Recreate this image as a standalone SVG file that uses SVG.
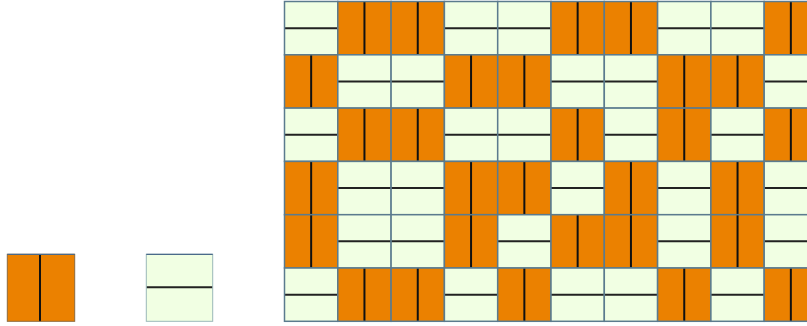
<svg xmlns="http://www.w3.org/2000/svg" xmlns:xlink="http://www.w3.org/1999/xlink" width="807" height="326" viewBox="0 0 807 326">
<style>
.of{fill:#EB8100}
.lf{fill:#F1FFE3}
.gs{fill:none;stroke:#5b7b8e;stroke-width:1.5}
.vl{stroke:#111;stroke-width:2}
.hl{stroke:#222;stroke-width:2}
</style>
<defs>
<g id="O">
<rect class="of" x="0" y="0" width="53.3" height="53.3"/>
<line class="vl" x1="26.65" y1="0" x2="26.65" y2="53.3"/>
<rect class="gs" x="0" y="0" width="53.3" height="53.3"/>
</g>
<g id="L">
<rect class="lf" x="0" y="0" width="53.3" height="53.3"/>
<line class="hl" x1="0" y1="26.65" x2="53.3" y2="26.65"/>
<rect class="gs" x="0" y="0" width="53.3" height="53.3"/>
</g>
</defs>
<rect width="807" height="326" fill="#ffffff"/>
<g id="legend-orange">
<rect class="of" x="7.3" y="254.3" width="67.4" height="67"/>
<line class="vl" x1="40" y1="254.3" x2="40" y2="321.3" stroke-width="2.2"/>
<rect x="7.3" y="254.3" width="67.4" height="67" fill="none" stroke="#8c6a3c" stroke-width="1"/>
<line x1="7.3" y1="254.3" x2="74.7" y2="254.3" stroke="#4a6a8a" stroke-width="1.3"/>
</g>
<g id="legend-light">
<rect class="lf" x="146.3" y="254.3" width="66.4" height="67"/>
<line class="hl" x1="146.3" y1="287.3" x2="212.7" y2="287.3" stroke-width="2.2"/>
<rect x="146.3" y="254.3" width="66.4" height="67" fill="none" stroke="#9ab8b8" stroke-width="1"/>
<line x1="146.3" y1="254.3" x2="212.7" y2="254.3" stroke="#4a6a8a" stroke-width="1.3"/>
</g>
<g id="grid">
<!-- row 0: L O O L L O O L L O -->
<use xlink:href="#L" x="284.5" y="1.5"/>
<use xlink:href="#O" x="337.8" y="1.5"/>
<use xlink:href="#O" x="391.1" y="1.5"/>
<use xlink:href="#L" x="444.4" y="1.5"/>
<use xlink:href="#L" x="497.7" y="1.5"/>
<use xlink:href="#O" x="551.0" y="1.5"/>
<use xlink:href="#O" x="604.3" y="1.5"/>
<use xlink:href="#L" x="657.6" y="1.5"/>
<use xlink:href="#L" x="710.9" y="1.5"/>
<use xlink:href="#O" x="764.2" y="1.5"/>
<!-- row 1: O L L O O L L O O L -->
<use xlink:href="#O" x="284.5" y="54.8"/>
<use xlink:href="#L" x="337.8" y="54.8"/>
<use xlink:href="#L" x="391.1" y="54.8"/>
<use xlink:href="#O" x="444.4" y="54.8"/>
<use xlink:href="#O" x="497.7" y="54.8"/>
<use xlink:href="#L" x="551.0" y="54.8"/>
<use xlink:href="#L" x="604.3" y="54.8"/>
<use xlink:href="#O" x="657.6" y="54.8"/>
<use xlink:href="#O" x="710.9" y="54.8"/>
<use xlink:href="#L" x="764.2" y="54.8"/>
<!-- row 2: L O O L L O L O L O -->
<use xlink:href="#L" x="284.5" y="108.1"/>
<use xlink:href="#O" x="337.8" y="108.1"/>
<use xlink:href="#O" x="391.1" y="108.1"/>
<use xlink:href="#L" x="444.4" y="108.1"/>
<use xlink:href="#L" x="497.7" y="108.1"/>
<use xlink:href="#O" x="551.0" y="108.1"/>
<use xlink:href="#L" x="604.3" y="108.1"/>
<use xlink:href="#O" x="657.6" y="108.1"/>
<use xlink:href="#L" x="710.9" y="108.1"/>
<use xlink:href="#O" x="764.2" y="108.1"/>
<!-- row 3: O L L O O L O L O L -->
<use xlink:href="#O" x="284.5" y="161.4"/>
<use xlink:href="#L" x="337.8" y="161.4"/>
<use xlink:href="#L" x="391.1" y="161.4"/>
<use xlink:href="#O" x="444.4" y="161.4"/>
<use xlink:href="#O" x="497.7" y="161.4"/>
<use xlink:href="#L" x="551.0" y="161.4"/>
<use xlink:href="#O" x="604.3" y="161.4"/>
<use xlink:href="#L" x="657.6" y="161.4"/>
<use xlink:href="#O" x="710.9" y="161.4"/>
<use xlink:href="#L" x="764.2" y="161.4"/>
<!-- row 4: O L L O L O O L O L -->
<use xlink:href="#O" x="284.5" y="214.7"/>
<use xlink:href="#L" x="337.8" y="214.7"/>
<use xlink:href="#L" x="391.1" y="214.7"/>
<use xlink:href="#O" x="444.4" y="214.7"/>
<use xlink:href="#L" x="497.7" y="214.7"/>
<use xlink:href="#O" x="551.0" y="214.7"/>
<use xlink:href="#O" x="604.3" y="214.7"/>
<use xlink:href="#L" x="657.6" y="214.7"/>
<use xlink:href="#O" x="710.9" y="214.7"/>
<use xlink:href="#L" x="764.2" y="214.7"/>
<!-- row 5: L O O L O L L O L O -->
<use xlink:href="#L" x="284.5" y="268.0"/>
<use xlink:href="#O" x="337.8" y="268.0"/>
<use xlink:href="#O" x="391.1" y="268.0"/>
<use xlink:href="#L" x="444.4" y="268.0"/>
<use xlink:href="#O" x="497.7" y="268.0"/>
<use xlink:href="#L" x="551.0" y="268.0"/>
<use xlink:href="#L" x="604.3" y="268.0"/>
<use xlink:href="#O" x="657.6" y="268.0"/>
<use xlink:href="#L" x="710.9" y="268.0"/>
<use xlink:href="#O" x="764.2" y="268.0"/>
</g>
</svg>
